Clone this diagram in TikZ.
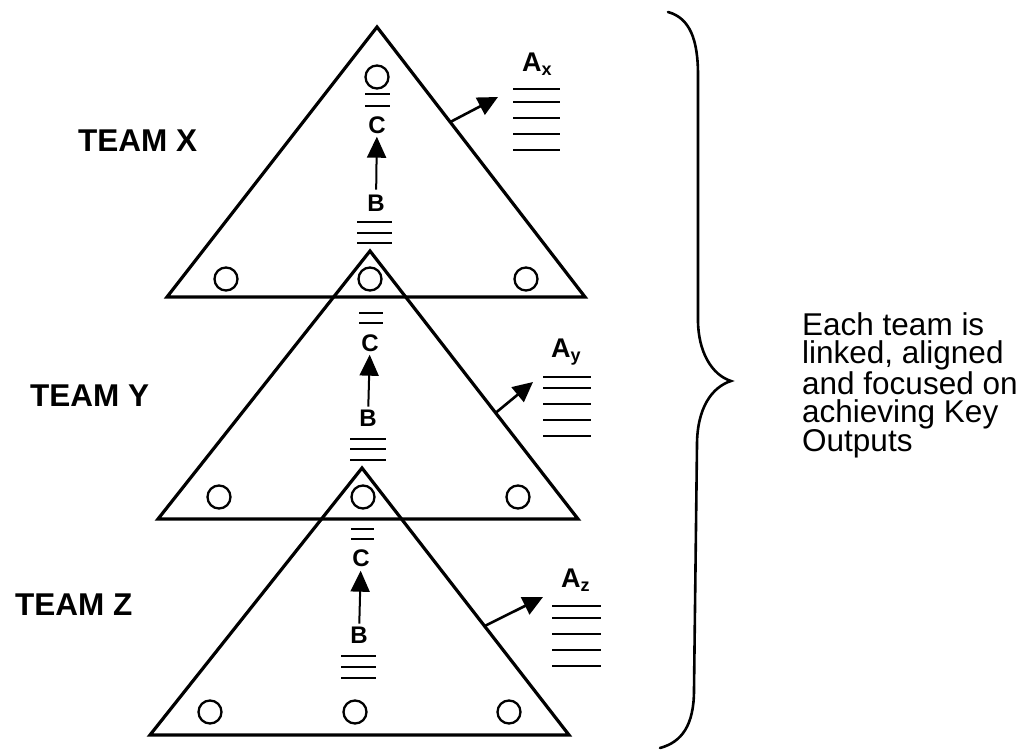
\documentclass[tikz,border=0pt]{standalone}
\usepackage{fontspec}
\setmainfont{Liberation Sans}
\usetikzlibrary{arrows.meta,calc}
\tikzset{
 tri/.style={line width=3.2pt, line join=miter},
 dot/.style={circle, draw, line width=2.3pt, minimum size=23pt, inner sep=0pt},
 bar/.style={line width=2.3pt},
 uparrow/.style={line width=2pt, -{Triangle[length=21pt,width=19pt]}},
 outarrow/.style={line width=2.6pt, -{Triangle[length=20pt,width=19pt]}},
 team/.style={font=\fontsize{31.5}{31.5}\selectfont\bfseries, anchor=base west, inner sep=0pt},
 letter/.style={font=\fontsize{24}{24}\selectfont\bfseries, inner sep=0pt},
 alabel/.style={font=\fontsize{27}{27}\selectfont\bfseries, anchor=base west, inner sep=0pt},
 note/.style={font=\fontsize{31.5}{28.3}\selectfont, align=left, anchor=base west, inner sep=0pt},
 brace/.style={line width=2.6pt, line cap=round},
}
\newcommand{\subs}[1]{\raisebox{-4pt}{\fontsize{18}{18}\selectfont #1}}
\begin{document}
\begin{tikzpicture}[x=1pt,y=-1pt]
\useasboundingbox (0,0) rectangle (1029,751);

% ---------- triangle vertices
\coordinate (XA) at (377,27);  \coordinate (XL) at (167,297); \coordinate (XR) at (585,297);
\coordinate (YA) at (370,251); \coordinate (YL) at (158,519); \coordinate (YR) at (578,519);
\coordinate (ZA) at (362,468); \coordinate (ZL) at (150,735); \coordinate (ZR) at (569,735);

\draw[tri] (XA) -- (XL) -- (XR) -- cycle;
\draw[tri] (YA) -- (YL) -- (YR) -- cycle;
\draw[tri] (ZA) -- (ZL) -- (ZR) -- cycle;

% ---------- circles
\node[dot] (Xtop) at (377,77) {};
\node[dot] (Xbl) at (226,279) {};
\node[dot] (Ytop) at (370,279) {};
\node[dot] (Xbr) at (526,279) {};
\node[dot] (Ybl) at (219,497) {};
\node[dot] (Ztop) at (363,497) {};
\node[dot] (Ybr) at (518,497) {};
\node[dot] (Zbl) at (210,712) {};
\node[dot] (Zbm) at (355,712) {};
\node[dot] (Zbr) at (509,712) {};

% ---------- double bars under top circles
\foreach \y in {94,106} \draw[bar] (365,\y) -- (390,\y);
\foreach \y in {313,323} \draw[bar] (359,\y) -- (383,\y);
\foreach \y in {529,539} \draw[bar] (351,\y) -- (374,\y);

% ---------- C / B letters and arrows
\node[letter] (XC) at (377,125) {C};
\node[letter] (XB) at (376,203) {B};
\node[letter] (YC) at (370,343) {C};
\node[letter] (YB) at (368,418) {B};
\node[letter] (ZC) at (361,558) {C};
\node[letter] (ZB) at (359,635) {B};
\draw[uparrow, shorten <=5pt, shorten >=3pt] (XB) -- (XC);
\draw[uparrow, shorten <=3pt, shorten >=3pt] (YB) -- (YC);
\draw[uparrow, shorten <=3pt, shorten >=4pt] (ZB) -- (ZC);

% ---------- triple bars under B
\foreach \y in {222,233,243} \draw[bar] (357,\y) -- (392,\y);
\foreach \y in {439,449,460} \draw[bar] (350,\y) -- (386,\y);
\foreach \y in {656,667,678} \draw[bar] (341,\y) -- (376,\y);

% ---------- A labels and output lists
\node[alabel] (AX) at (522,72) {A\subs{x}};
\node[alabel] (AY) at (551,358) {A\subs{y}};
\node[alabel] (AZ) at (561,587) {A\subs{z}};
\foreach \y in {89,102,118,134,150} \draw[bar] (513,\y) -- (560,\y);
\foreach \y in {377,388,404,420,436} \draw[bar] (543,\y) -- (591,\y);
\foreach \y in {606,618,634,650,666} \draw[bar] (552,\y) -- (601,\y);

% ---------- output arrows
\coordinate (Xs) at ($(XA)!0.352!(XR)$); \coordinate (Xt) at (498,97);
\coordinate (Ys) at ($(YA)!0.604!(YR)$); \coordinate (Yt) at (533,382);
\coordinate (Zs) at ($(ZA)!0.592!(ZR)$); \coordinate (Zt) at (543,597);
\draw[outarrow] (Xs) -- (Xt);
\draw[outarrow] (Ys) -- (Yt);
\draw[outarrow] (Zs) -- (Zt);

% ---------- team names
\node[team] (TX) at (78,152) {TEAM X};
\node[team] (TY) at (30,407) {TEAM Y};
\node[team] (TZ) at (15,615) {TEAM Z};

% ---------- brace
\draw[brace] (668,12) .. controls (690,18) and (698,40) .. (698,75)
  -- (698,320) .. controls (698,352) and (712,375) .. (731,381)
  .. controls (712,387) and (697,408) .. (697,445)
  -- (694,690) .. controls (694,725) and (682,742) .. (660,748);

% ---------- note (base anchor = baseline of last line)
\node[note] (note) at (802,452) {Each team is\\linked, aligned\\and focused on\\achieving Key\\Outputs};
\end{tikzpicture}
\end{document}
